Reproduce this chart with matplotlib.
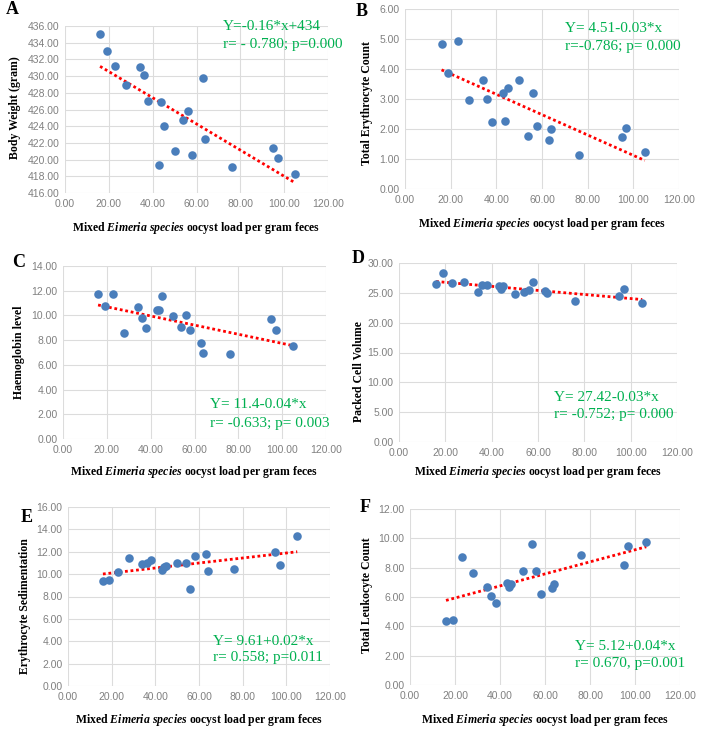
import numpy as np
import matplotlib
matplotlib.use("Agg")
import matplotlib.pyplot as plt

plt.rcParams['mathtext.fontset'] = 'custom'
plt.rcParams['mathtext.rm'] = 'Liberation Serif:bold'
plt.rcParams['mathtext.it'] = 'Liberation Serif:italic:bold'

# oocyst load (shared x for all panels)
oocyst = [16, 19, 23, 28, 34, 36, 38, 43, 44, 45, 50, 54, 56, 58, 63, 64, 76, 95, 97, 105]

body_weight = [435.0, 433.0, 431.2, 428.9, 431.1, 430.1, 427.0, 419.3, 426.9, 424.0,
               421.0, 424.7, 425.8, 420.6, 429.8, 422.5, 419.1, 421.4, 420.2, 418.3]
erythrocyte = [4.83, 3.87, 4.95, 2.98, 3.63, 3.00, 2.22, 3.20, 2.27, 3.38,
               3.65, 1.78, 3.20, 2.10, 1.65, 2.00, 1.12, 1.75, 2.05, 1.23]
haemoglobin = [11.75, 10.8, 11.7, 8.55, 10.65, 9.8, 9.0, 10.4, 10.4, 11.6,
               9.95, 9.05, 10.0, 8.85, 7.75, 6.95, 6.85, 9.75, 8.8, 7.5]
pcv = [26.4, 28.3, 26.7, 26.8, 25.1, 26.3, 26.3, 26.2, 25.7, 26.2,
       24.8, 25.1, 25.4, 26.8, 25.3, 24.9, 23.7, 24.4, 25.7, 23.3]
esr = [9.4, 9.45, 10.2, 11.4, 10.9, 11.0, 11.3, 10.4, 10.6, 10.75,
       11.0, 10.95, 8.7, 11.6, 11.8, 10.25, 10.45, 11.95, 10.85, 13.45]
leukocyte = [4.35, 4.4, 8.7, 7.65, 6.65, 6.1, 5.6, 6.95, 6.7, 6.9,
             7.8, 9.6, 7.75, 6.2, 6.6, 6.9, 8.85, 8.15, 9.5, 9.75]

ylabels = ["Body Weight (gram)", "Total Erythrocyte Count", "Haemoglobin level",
           "Packed Cell Volume", "Erythrocyte Sedimentation", "Total Leukocyte Count"]
letters = ["A", "B", "C", "D", "E", "F"]
equations = [["Y=-0.16*x+434", "r= - 0.780; p=0.000"],
             ["Y= 4.51-0.03*x", "r=-0.786; p= 0.000"],
             ["Y= 11.4-0.04*x", "r= -0.633; p= 0.003"],
             ["Y= 27.42-0.03*x", "r= -0.752; p= 0.000"],
             ["Y= 9.61+0.02*x", "r= 0.558; p=0.011"],
             ["Y= 5.12+0.04*x", "r= 0.670, p=0.001"]]
series = [body_weight, erythrocyte, haemoglobin, pcv, esr, leukocyte]
ylims = [(416, 436, 2), (0, 6, 1), (0, 14, 2), (0, 30, 5), (0, 16, 2), (0, 12, 2)]

W, H = 704, 732
fig = plt.figure(figsize=(W / 100, H / 100), dpi=100)

# pixel boxes: left, right, top, bottom
boxes = [(65, 328, 26, 193), (405, 679, 9, 189), (63, 326, 266, 439),
         (399, 677, 263, 442), (68, 330, 507, 686), (410, 680, 509, 685)]
eq_pos = [(0.60, 1.0, 0.89), (0.584, 0.89, 0.79), (0.56, 0.197, 0.09),
          (0.557, 0.25, 0.156), (0.553, 0.25, 0.16), (0.61, 0.22, 0.12)]
letter_pos = [(12, 10), (362, 12), (19, 262), (358, 258), (27, 518), (365, 507)]
ylab_pos = [(15, 108), (367, 103), (19, 352), (359, 372), (25, 606), (367, 595)]
xlab_y = [228, 224, 472, 472, 720, 720]

green = "#00b050"
blue = "#4a7ebb"

for i in range(6):
    l, r, t, b = boxes[i]
    ax = fig.add_axes([l / W, 1 - b / H, (r - l) / W, (b - t) / H])
    y = series[i]
    ax.scatter(oocyst, y, s=38, color=blue, zorder=3, linewidths=0)
    k, c = np.polyfit(oocyst, y, 1)
    xs = np.array([min(oocyst), max(oocyst)])
    ax.plot(xs, k * xs + c, color="red", linestyle=(0, (1, 1)), lw=2, zorder=2)
    lo, hi, st = ylims[i]
    ax.set_xlim(0, 120)
    ax.set_ylim(lo, hi)
    ax.set_xticks(np.arange(0, 121, 20))
    ax.set_yticks(np.arange(lo, hi + 0.001, st))
    ax.xaxis.set_major_formatter(matplotlib.ticker.FormatStrFormatter('%.2f'))
    ax.yaxis.set_major_formatter(matplotlib.ticker.FormatStrFormatter('%.2f'))
    ax.tick_params(length=0, labelsize=7.5, labelcolor="#808080", pad=4)
    for lab in ax.get_xticklabels() + ax.get_yticklabels():
        lab.set_family("Liberation Sans")
    for s in ax.spines.values():
        s.set_visible(False)
    ax.grid(True, color="#dcdcdc", lw=0.8)
    ax.set_axisbelow(True)

    ex, ey1, ey2 = eq_pos[i]
    ax.text(ex, ey1, equations[i][0], transform=ax.transAxes, color=green,
            family="Liberation Serif", fontsize=11, va="center", ha="left")
    ax.text(ex, ey2, equations[i][1], transform=ax.transAxes, color=green,
            family="Liberation Serif", fontsize=11, va="center", ha="left")

    lx, ly = letter_pos[i]
    fig.text(lx / W, 1 - ly / H, letters[i], family="Liberation Serif",
             fontweight="bold", fontsize=13, ha="center", va="center")
    yx, yy = ylab_pos[i]
    fig.text(yx / W, 1 - yy / H, ylabels[i], family="Liberation Serif",
             fontweight="bold", fontsize=8.5, rotation=90, ha="center", va="center")
    fig.text((l + r) / 2 / W, 1 - xlab_y[i] / H,
             r"Mixed $\mathit{Eimeria\ species}$ oocyst load per gram feces",
             family="Liberation Serif", fontweight="bold", fontsize=8.5,
             ha="center", va="center")

fig.savefig("out.png", dpi=100)
